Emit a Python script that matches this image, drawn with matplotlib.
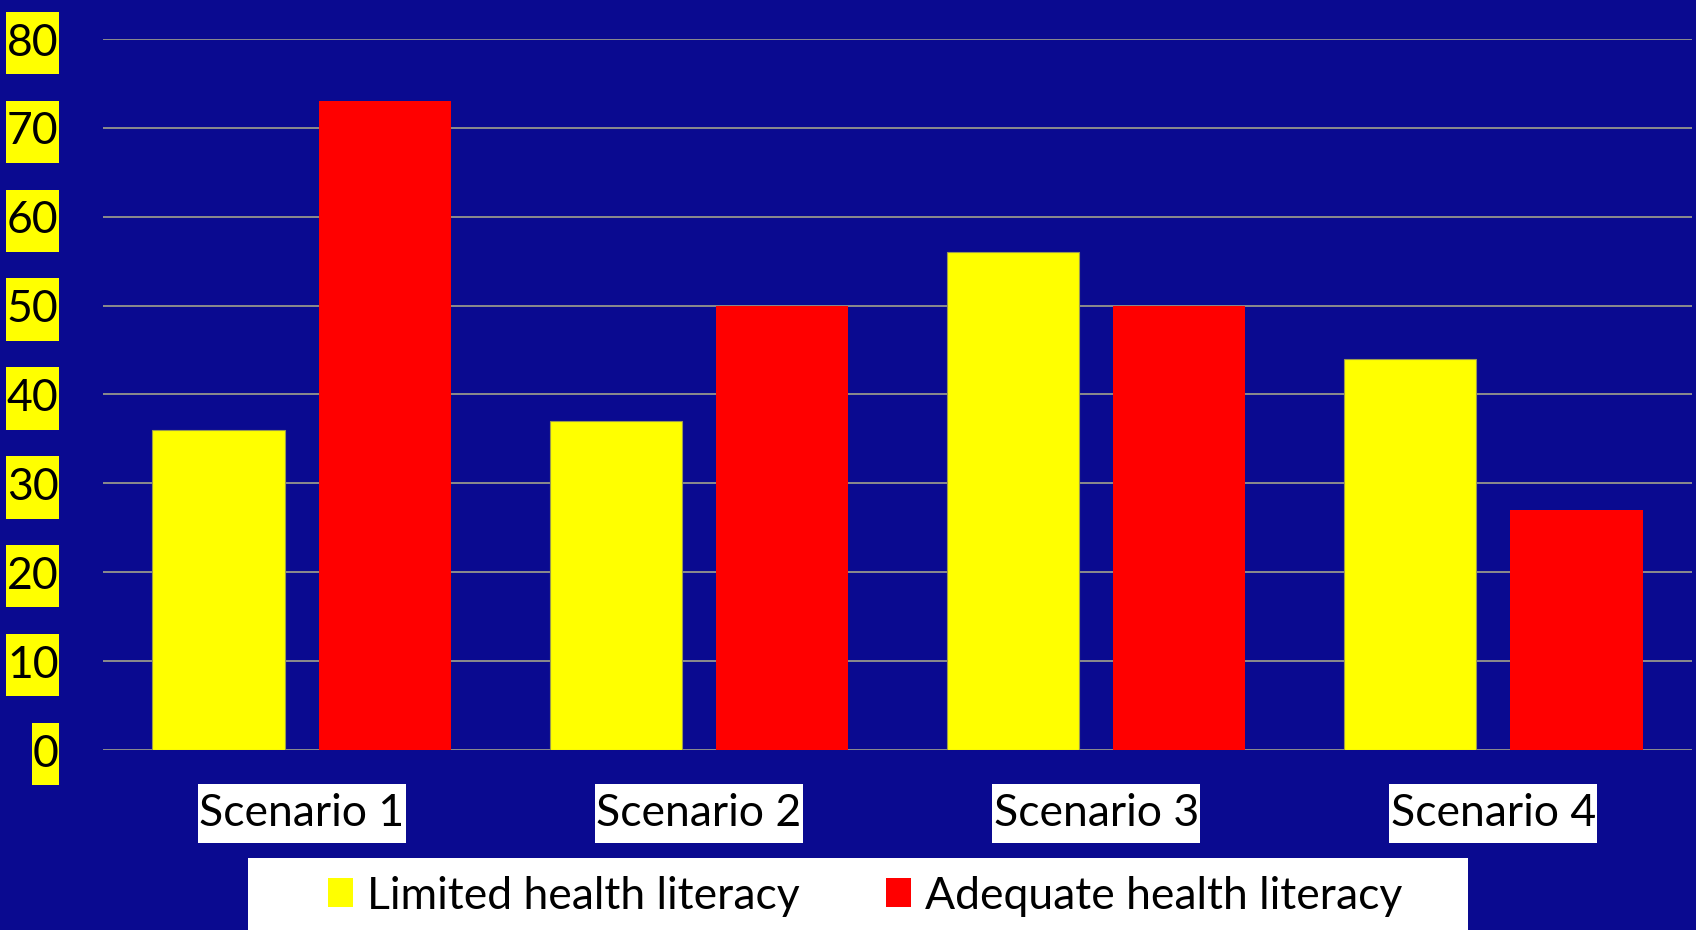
import numpy as np
import matplotlib.pyplot as plt
from matplotlib.patches import Rectangle, Patch
from matplotlib.path import Path

scenarios = ['Scenario 1', 'Scenario 2', 'Scenario 3', 'Scenario 4']
limited = [36, 37, 56, 44]
adequate = [73, 50, 50, 27]
y_ticks = [0, 10, 20, 30, 40, 50, 60, 70, 80]

bg = '#0a0a90'
W, H = 1696, 930

plt.rcParams['font.family'] = ['Lato', 'DejaVu Sans']


def make_box(px, py):
    # rectangle with separate horizontal / vertical padding (in font-size units)
    def box(x0, y0, width, height, mutation_size):
        dx, dy = px * mutation_size, py * mutation_size
        x1, y1 = x0 + width + dx, y0 + height + dy
        x0, y0 = x0 - dx, y0 - dy
        return Path([(x0, y0), (x1, y0), (x1, y1), (x0, y1), (x0, y0)], closed=True)
    return box


fig = plt.figure(figsize=(W / 100, H / 100), dpi=100, facecolor=bg)
ax = fig.add_axes([103 / W, (H - 750) / H, (1692 - 103) / W, (750 - 39) / H])
ax.set_facecolor(bg)

x = np.arange(len(scenarios))
bw = 0.333
off = bw / 2 + 0.043
ax.bar(x - off, limited, bw, color='#ffff00', edgecolor='#9a9a50', linewidth=0.8, zorder=3)
ax.bar(x + off, adequate, bw, color='#ff0000', edgecolor='none', zorder=3)

ax.set_xlim(-0.5, 3.5)
ax.set_ylim(0, 80)
ax.set_yticks(y_ticks)
ax.set_xticks(x)
ax.set_xticklabels(scenarios)
ax.yaxis.grid(True, color='#8c8c8c', linewidth=1.4, zorder=1)
ax.set_axisbelow(True)
for s in ax.spines.values():
    s.set_visible(False)
ax.tick_params(axis='both', length=0, labelsize=32, labelcolor='black')
ax.tick_params(axis='y', pad=32)
ax.tick_params(axis='x', pad=31)

for t in ax.get_yticklabels():
    t.set_bbox(dict(facecolor='#ffff00', edgecolor='none', boxstyle=make_box(0.02, 0.24)))
for t in ax.get_xticklabels():
    t.set_bbox(dict(facecolor='white', edgecolor='none', boxstyle=make_box(0.03, 0.2)))

# white legend panel
fig.patches.append(Rectangle((248 / W, 0), (1468 - 248) / W, (H - 858) / H,
                             transform=fig.transFigure, facecolor='white',
                             edgecolor='none', zorder=0))
handles = [Patch(facecolor='#ffff00', edgecolor='none', label='Limited health literacy'),
           Patch(facecolor='#ff0000', edgecolor='none', label='Adequate health literacy')]
fig.legend(handles=handles, loc='center', bbox_to_anchor=(865 / W, 1 - 896 / H), ncol=2,
           frameon=False, fontsize=32, handlelength=0.57, handleheight=0.62,
           handletextpad=0.3, columnspacing=1.95, borderpad=0)

fig.savefig('out.png', dpi=100, facecolor=bg)
